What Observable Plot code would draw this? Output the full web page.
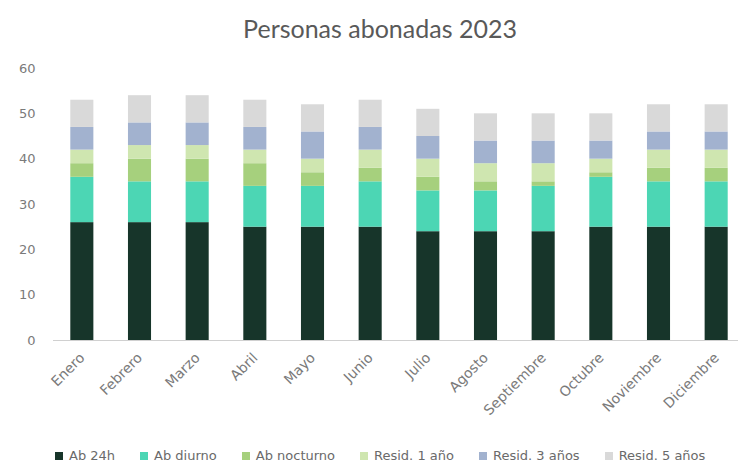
<!DOCTYPE html>
<html>
<head>
<meta charset="utf-8">
<script src="https://cdn.jsdelivr.net/npm/d3@7"></script>
<script src="https://cdn.jsdelivr.net/npm/@observablehq/plot@0.6"></script>
<style>
  html, body { margin: 0; padding: 0; background: #fff; }
  body { width: 738px; height: 466px; overflow: hidden; font-family: "DejaVu Sans", sans-serif; }
  #title { height: 50px; line-height: 56px; text-align: center; font-family: Lato, sans-serif; font-size: 25px; color: #595959; padding-left: 22px; }
  #legend { display: flex; padding-left: 55px; font-size: 13px; color: #6a6a6a; height: 21px; align-items: center; }
  #legend .item { display: flex; align-items: center; margin-right: 25px; }
  #legend .sw { width: 8px; height: 8px; margin-right: 6px; }
  svg { display: block; }
</style>
</head>
<body>
<div id="title">Personas abonadas 2023</div>
<div id="chart"></div>
<div id="legend"></div>
<script>
const months = ["Enero","Febrero","Marzo","Abril","Mayo","Junio","Julio","Agosto","Septiembre","Octubre","Noviembre","Diciembre"];
const seriesNames = ["Ab 24h","Ab diurno","Ab nocturno","Resid. 1 año","Resid. 3 años","Resid. 5 años"];
const seriesColors = ["#17352a","#4cd6b4","#a6d07d","#cfe6b0","#a2b2cf","#d9d9d9"];
const ab24h      = [26,26,26,25,25,25,24,24,24,25,25,25];
const abDiurno   = [10, 9, 9, 9, 9,10, 9, 9,10,11,10,10];
const abNocturno = [ 3, 5, 5, 5, 3, 3, 3, 2, 1, 1, 3, 3];
const resid1     = [ 3, 3, 3, 3, 3, 4, 4, 4, 4, 3, 4, 4];
const resid3     = [ 5, 5, 5, 5, 6, 5, 5, 5, 5, 4, 4, 4];
const resid5     = [ 6, 6, 6, 6, 6, 6, 6, 6, 6, 6, 6, 6];
const yTicks = [0,10,20,30,40,50,60];

const allSeries = [ab24h, abDiurno, abNocturno, resid1, resid3, resid5];
const data = [];
allSeries.forEach((vals, si) => {
  vals.forEach((v, mi) => data.push({month: months[mi], serie: seriesNames[si], value: v}));
});

const chart = Plot.plot({
  width: 738,
  height: 395,
  marginTop: 18,
  marginBottom: 105,
  marginLeft: 53,
  marginRight: 0,
  style: {fontFamily: "'DejaVu Sans', sans-serif", fontSize: "13px", color: "#7a7a7a"},
  x: {domain: months, range: [53, 745], round: false, paddingInner: 0.6, paddingOuter: 0.3, label: null, tickSize: 0, tickRotate: -45, tickPadding: 15},
  y: {domain: [0, 60], ticks: yTicks, label: null, tickSize: 0, tickPadding: 18, grid: false},
  color: {domain: seriesNames, range: seriesColors},
  marks: [
    Plot.gridY(yTicks, {stroke: "#d9d9d9", strokeOpacity: 1, x1: 53, x2: 738}),
    Plot.barY(data, Plot.stackY({x: "month", y: "value", fill: "serie", order: seriesNames})),
    Plot.ruleY([0], {stroke: "#d0d0d0"})
  ]
});
document.getElementById("chart").appendChild(chart);
chart.querySelectorAll("g[aria-label='x-axis tick label']").forEach(g => g.setAttribute("font-size", "14"));

const legend = document.getElementById("legend");
seriesNames.forEach((n, i) => {
  const it = document.createElement("div");
  it.className = "item";
  it.innerHTML = `<span class="sw" style="background:${seriesColors[i]}"></span><span>${n}</span>`;
  legend.appendChild(it);
});
</script>
</body>
</html>
